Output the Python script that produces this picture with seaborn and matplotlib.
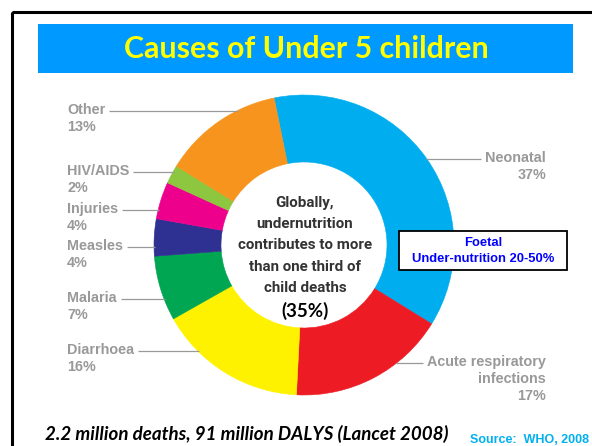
import numpy as np
import matplotlib
matplotlib.use("Agg")
import matplotlib.pyplot as plt
import seaborn as sns
from matplotlib.patches import Rectangle
from matplotlib import font_manager as fm

# Under-five causes of death (share of deaths, %)
causes = ["Neonatal", "Acute respiratory\ninfections", "Diarrhoea", "Malaria",
          "Measles", "Injuries", "HIV/AIDS", "Other"]
shares = [37, 17, 16, 7, 4, 4, 2, 13]
colors = ["#00AEEF", "#ED1C24", "#FFF200", "#00A651",
          "#2E3192", "#EC008C", "#8DC63F", "#F7941D"]

title = "Causes of Under 5 children"
center_lines = ["Globally,", "undernutrition", "contributes to more",
                "than one third of", "child deaths"]
center_share = "(35%)"
foetal_lines = ["Foetal", "Under-nutrition 20-50%"]
footnote = "2.2 million deaths, 91 million DALYS (Lancet 2008)"
source = "Source:  WHO, 2008"

sns.set_theme(style="white")
plt.rcParams["font.family"] = ["Liberation Sans", "DejaVu Sans"]

installed = {f.name for f in fm.fontManager.ttflist}
narrow = "Liberation Sans Narrow" if "Liberation Sans Narrow" in installed else "Roboto"

W, H = 592, 446
fig = plt.figure(figsize=(W / 100, H / 100), dpi=100)
ax = fig.add_axes([0, 0, 1, 1])

# donut geometry in pixel units (y grows downward)
CX, CY, R, RING = 304, 245, 150, 67

wedges, _ = ax.pie(shares, colors=colors, startangle=258.5, counterclock=True,
                   center=(CX, CY), radius=R, frame=False,
                   wedgeprops=dict(width=RING, linewidth=0.4))
for w, c in zip(wedges, colors):
    w.set_edgecolor(c)
ax.set_aspect("auto")
ax.set_xlim(0, W)
ax.set_ylim(H, 0)
ax.axis("off")

# outer frame and title band
ax.add_patch(Rectangle((11.5, 11.5), W + 40, H + 40, fill=False,
                       edgecolor="black", linewidth=2.2, zorder=5, clip_on=False))
ax.add_patch(Rectangle((38, 24), 535, 49, facecolor="#0099FF",
                       edgecolor="none", zorder=4))
t_title = ax.text(306, 49, title, ha="center", va="center", color="#FFFF00",
                  fontsize=22, fontweight="bold", family=["Lato", "DejaVu Sans"],
                  zorder=6)

# slice labels: side, row of the name line
layout = {"Other": ("L", 110), "HIV/AIDS": ("L", 171), "Injuries": ("L", 209),
          "Measles": ("L", 246), "Malaria": ("L", 298), "Diarrhoea": ("L", 350),
          "Neonatal": ("R", 158), "Acute respiratory\ninfections": ("R", 362)}
gray = "#999999"
LX, RX, STEP = 67, 546, 17
label_texts = []
for name, val in zip(causes, shares):
    side, y = layout[name]
    rows = name.split("\n") + [f"{val}%"]
    ha = "left" if side == "L" else "right"
    x = LX if side == "L" else RX
    objs = [ax.text(x, y + i * STEP, r, ha=ha, va="center", color=gray,
                    fontsize=10.4, fontweight="bold") for i, r in enumerate(rows)]
    label_texts.append((side, y, objs[0]))


def fit_width(t, target):
    fig.canvas.draw()
    w = t.get_window_extent(fig.canvas.get_renderer()).width
    t.set_fontsize(t.get_fontsize() * target / w)


fit_width(t_title, 364)

fig.canvas.draw()
rend = fig.canvas.get_renderer()
for side, y, t in label_texts:
    bb = t.get_window_extent(rend)
    ly = y + 1
    edge = np.sqrt(max(R ** 2 - (ly - CY) ** 2, 0))
    if side == "L":
        xs = [bb.x1 + 4, CX - edge + 1]
    else:
        xs = [CX + edge - 1, bb.x0 - 4]
    ax.plot(xs, [ly, ly], color=gray, linewidth=0.9, zorder=3,
            solid_capstyle="butt")

# centre message, sized so the widest line spans the hole like the callout
center_objs = [ax.text(CX + 1, 203 + i * 21.2, line, ha="center", va="center",
                       color="#333333", fontsize=12, fontweight="bold",
                       family=[narrow, "DejaVu Sans"])
               for i, line in enumerate(center_lines)]
fit_width(center_objs[2], 134)
for t in center_objs:
    t.set_fontsize(center_objs[2].get_fontsize())
ax.text(CX + 1, 311, center_share, ha="center", va="center", color="black",
        fontsize=13.5, fontweight="bold", family=["Lato", "DejaVu Sans"])

# foetal under-nutrition callout
ax.add_patch(Rectangle((399, 231), 168, 39, facecolor="white",
                       edgecolor="black", linewidth=1.3, zorder=5))
for i, line in enumerate(foetal_lines):
    ax.text(483, 243 + i * 15.5, line, ha="center", va="center", color="#0000FF",
            fontsize=9.4, fontweight="bold", zorder=6)

# footnote and source
t_foot = ax.text(45, 434, footnote, ha="left", va="center", color="black",
                 fontsize=14, fontweight="bold", style="italic",
                 family=["Lato", "DejaVu Sans"])
fit_width(t_foot, 403)
t_src = ax.text(470, 440, source, ha="left", va="center", color="#00B0F0",
                fontsize=9.7, fontweight="bold")
fit_width(t_src, 119)

fig.savefig("out.png", dpi=100)
